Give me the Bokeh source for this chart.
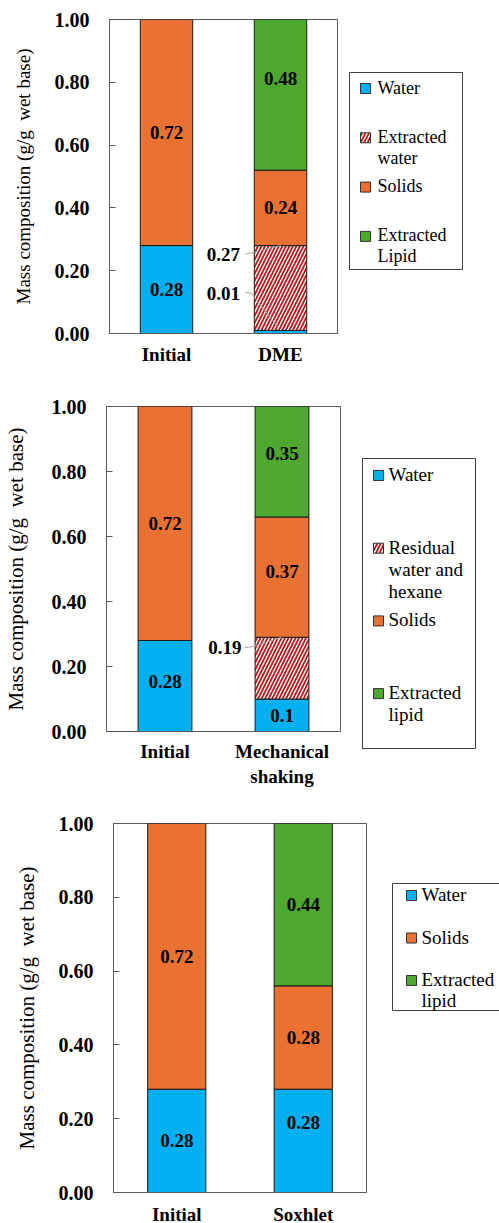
from bokeh.plotting import figure
from bokeh.layouts import column, row
from bokeh.models import FactorRange, Range1d, FixedTicker, NumeralTickFormatter
from bokeh.core.properties import value
from bokeh.embed import file_html
from bokeh.resources import INLINE

FONT = "Liberation Serif"

# ---- data -------------------------------------------------------------
# DME extraction
dme_cats = ["Initial", "DME"]
dme_water = [0.28, 0.01]
dme_extracted_water = [0.0, 0.27]
dme_solids = [0.72, 0.24]
dme_lipid = [0.0, 0.48]

# Mechanical shaking with hexane
ms_cats = ["Initial", "Mechanical\nshaking"]
ms_water = [0.28, 0.1]
ms_residual = [0.0, 0.19]
ms_solids = [0.72, 0.37]
ms_lipid = [0.0, 0.35]

# Soxhlet extraction
sx_cats = ["Initial", "Soxhlet"]
sx_water = [0.28, 0.28]
sx_solids = [0.72, 0.28]
sx_lipid = [0.0, 0.44]

y_ticks = [0.0, 0.2, 0.4, 0.6, 0.8, 1.0]
y_title = "Mass composition (g/g\u00a0 wet base)"

dme_legend = [["Water"], ["Extracted", "water"], ["Solids"], ["Extracted", "Lipid"]]
ms_legend = [["Water"], ["Residual", "water and", "hexane"], ["Solids"], ["Extracted", "lipid"]]
sx_legend = [["Water"], ["Solids"], ["Extracted", "lipid"]]

# ---- styles -----------------------------------------------------------
BLUE = "#00B0F0"
ORANGE = "#E97132"
GREEN = "#4EA72E"
HATCH_RED = "#B01E1E"
FRAME = "#5A5A5A"
LEADER = "#A6A6A6"

WATER = dict(fill_color=BLUE)
HATCHED = dict(fill_color="white", hatch_pattern="/", hatch_color=HATCH_RED,
               hatch_scale=7, hatch_weight=1.8)
SOLID = dict(fill_color=ORANGE)
LIPID = dict(fill_color=GREEN)

BAR_W = 0.46
PAGE_W = 499


def make_chart(cats, layers, fw, fh, left, top, bottom, right,
               title_size, title_standoff, label_standoff):
    p = figure(x_range=FactorRange(*cats), y_range=Range1d(0, 1),
               frame_width=fw, frame_height=fh,
               min_border_left=left, min_border_top=top,
               min_border_bottom=bottom, min_border_right=right,
               output_backend="svg", toolbar_location=None)
    p.grid.visible = False
    p.outline_line_color = FRAME
    p.outline_line_width = 1

    base = [0.0] * len(cats)
    for vals, style, nudges in layers:
        xs, bots, tops = [], [], []
        for i, v in enumerate(vals):
            if v > 0:
                xs.append(cats[i])
                bots.append(base[i])
                tops.append(base[i] + v)
        if xs:
            p.vbar(x=xs, bottom=bots, top=tops, width=BAR_W,
                   line_color="#1A1A1A", line_width=1, **style)
        if nudges is not None:
            lx, ly, lt, lo = [], [], [], []
            for i, v in enumerate(vals):
                if v > 0 and nudges[i] is not None:
                    lx.append(cats[i])
                    ly.append(base[i] + v / 2)
                    lt.append(str(v))
                    lo.append(nudges[i])
            if lx:
                p.text(x=lx, y=ly, text=lt, y_offset=lo,
                       text_font=value(FONT), text_font_style="bold",
                       text_font_size="19px", text_align="center",
                       text_baseline="middle", text_color="black")
        base = [b + v for b, v in zip(base, vals)]

    yax = p.yaxis[0]
    yax.ticker = FixedTicker(ticks=y_ticks)
    yax.formatter = NumeralTickFormatter(format="0.00")
    yax.major_label_text_font = FONT
    yax.major_label_text_font_style = "bold"
    yax.major_label_text_font_size = "20px"
    yax.major_label_text_color = "black"
    yax.major_label_standoff = 20
    yax.major_tick_in = 6
    yax.major_tick_out = 0
    yax.major_tick_line_color = FRAME
    yax.minor_tick_line_color = None
    yax.axis_line_color = FRAME
    yax.axis_label = y_title
    yax.axis_label_text_font = FONT
    yax.axis_label_text_font_style = "normal"
    yax.axis_label_text_font_size = title_size
    yax.axis_label_text_color = "black"
    yax.axis_label_standoff = title_standoff

    xax = p.xaxis[0]
    xax.major_tick_line_color = None
    xax.major_tick_out = 0
    xax.major_tick_in = 0
    xax.axis_line_color = FRAME
    xax.major_label_text_font = FONT
    xax.major_label_text_font_style = "bold"
    xax.major_label_text_font_size = "19px"
    xax.major_label_text_color = "black"
    xax.major_label_text_line_height = 1.2
    xax.major_label_standoff = label_standoff
    return p


def callout(p, text, x, y, xs, ys):
    p.line(x=xs, y=ys, line_color=LEADER, line_width=1)
    p.text(x=[x], y=[y], text=[text], text_font=value(FONT),
           text_font_style="bold", text_font_size="19px",
           text_align="right", text_baseline="middle", text_color="black")


def make_legend(w, h, box, gx, tx, y0, step, line_h, labels, styles, font_size):
    # coordinates here are pixels from the top-left corner of this panel
    p = figure(width=w, height=h, x_range=Range1d(0, w), y_range=Range1d(h, 0),
               min_border=0, output_backend="svg", toolbar_location=None)
    p.axis.visible = False
    p.grid.visible = False
    p.outline_line_color = None
    x0, x1, b0, b1 = box
    p.quad(left=[x0], right=[x1], top=[b0], bottom=[b1],
           fill_color=None, line_color="#404040", line_width=1)
    for i, (lines, st) in enumerate(zip(labels, styles)):
        yc = y0 + i * step
        p.rect(x=[gx], y=[yc + 1], width=10, height=10,
               line_color="#333333", line_width=1, **st)
        p.text(x=[tx] * len(lines), y=[yc + k * line_h for k in range(len(lines))],
               text=lines, text_font=value(FONT), text_font_size=font_size,
               text_align="left", text_baseline="middle", text_color="black")
    return p


# ---- panel 1: DME ----------------------------------------------------
c1 = make_chart(dme_cats,
                [(dme_water, WATER, [0, None]),
                 (dme_extracted_water, HATCHED, None),
                 (dme_solids, SOLID, [0, 0]),
                 (dme_lipid, LIPID, [None, -16])],
                228, 314, 109, 19, 57, 8, "19px", 18, 10)
callout(c1, str(dme_extracted_water[1]), 1.145, 0.252,
        [1.19, 1.225, 1.5], [0.252, 0.255, dme_water[1] + dme_extracted_water[1]])
callout(c1, str(dme_water[1]), 1.145, 0.127,
        [1.19, 1.245, 1.48], [0.131, 0.127, 0.019])
l1 = make_legend(PAGE_W - 345, 390, (4, 117, 72, 269), 20, 32, 87, 49.3, 21,
                 dme_legend, [WATER, HATCHED, SOLID, LIPID], "18px")

# ---- panel 2: mechanical shaking --------------------------------------
c2 = make_chart(ms_cats,
                [(ms_water, WATER, [-5, 0]),
                 (ms_residual, HATCHED, None),
                 (ms_solids, SOLID, [0, -6]),
                 (ms_lipid, LIPID, [None, -7])],
                234, 325, 105, 16, 69, 6, "21px", 21, 9)
callout(c2, str(ms_residual[1]), 1.154, 0.258,
        [1.18, 1.265, 1.496], [0.258, 0.262, ms_water[1] + ms_residual[1]])
l2 = make_legend(PAGE_W - 345, 410, (16, 129, 68, 358), 32, 42, 84, 72.7, 22,
                 ms_legend, [WATER, HATCHED, SOLID, LIPID], "19px")

# ---- panel 3: Soxhlet ------------------------------------------------
c3 = make_chart(sx_cats,
                [(sx_water, WATER, [0, -18]),
                 (sx_solids, SOLID, [0, 0]),
                 (sx_lipid, LIPID, [None, 0])],
                253, 369, 113, 23, 31, 6, "21px", 17, 11)
l3 = make_legend(PAGE_W - 372, 423, (20, 140, 83, 210), 39, 49, 94, 42.5, 21,
                 sx_legend, [WATER, SOLID, LIPID], "19px")

page = column(row(c1, column(l1)), row(c2, column(l2)), row(c3, column(l3)))

with open("out.html", "w") as f:
    f.write(file_html(page, INLINE))
